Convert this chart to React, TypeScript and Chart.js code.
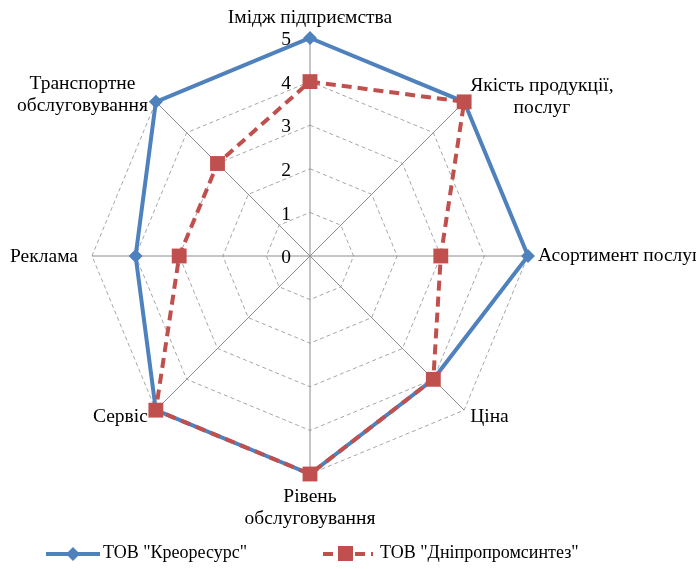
import React, { useEffect, useRef } from "react";
import { Chart, registerables } from "chart.js";

Chart.register(...registerables);

const categories: string[][] = [
  ["Імідж підприємства"],
  ["Якість продукції,", "послуг"],
  ["Асортимент послуг"],
  ["Ціна"],
  ["Рівень", "обслуговування"],
  ["Сервіс"],
  ["Реклама"],
  ["Транспортне", "обслуговування"],
];

const seriesNames = ['ТОВ "Креоресурс"', 'ТОВ "Дніпропромсинтез"'];
const kreoresursValues = [5, 5, 5, 4, 5, 5, 4, 5];
const dniproValues = [4, 5, 3, 4, 5, 5, 3, 3];
const tickValues = [0, 1, 2, 3, 4, 5];

const BLUE = "#4F81BD";
const RED = "#C0504D";
const FONT = '19.5px "Liberation Serif"';
const LEGEND_FONT = '18px "Liberation Serif"';

// label placement relative to each axis end: [align, dx, dy]
const labelPlacement: [string, number, number][] = [
  ["center", 0, -20],
  ["left", 6, -5],
  ["left", 10, 0],
  ["left", 6, 7],
  ["center", 0, 34],
  ["right", -8, 7],
  ["right", -14, 1],
  ["right", -8, -7],
];

const labelsPlugin = {
  id: "customLabels",
  beforeDatasetsDraw(chart: any) {
    const scale = chart.scales.r;
    const ctx = chart.ctx;
    ctx.save();
    ctx.font = FONT;
    ctx.fillStyle = "#000";
    ctx.textBaseline = "middle";
    ctx.textAlign = "right";
    tickValues.forEach((v) => {
      const p = scale.getPointPositionForValue(0, v);
      ctx.fillText(String(v), p.x - 19, p.y + 2);
    });
    ctx.restore();
  },
  afterDraw(chart: any) {
    const scale = chart.scales.r;
    const ctx = chart.ctx;
    ctx.save();
    ctx.font = FONT;
    ctx.fillStyle = "#000";
    ctx.textBaseline = "middle";
    ctx.textAlign = "center";
    const lh = 22;
    categories.forEach((lines, i) => {
      const p = scale.getPointPosition(i, scale.drawingArea);
      const [align, dx, dy] = labelPlacement[i];
      const w = Math.max(...lines.map((l) => ctx.measureText(l).width));
      let cx = p.x + dx;
      if (align === "left") cx = p.x + dx + w / 2;
      if (align === "right") cx = p.x + dx - w / 2;
      const cy = p.y + dy;
      const top = cy - ((lines.length - 1) * lh) / 2;
      lines.forEach((l, k) => ctx.fillText(l, cx, top + k * lh));
    });

    // legend
    const ly = 554;
    ctx.font = LEGEND_FONT;
    ctx.textAlign = "left";
    // blue
    ctx.strokeStyle = BLUE;
    ctx.lineWidth = 4;
    ctx.setLineDash([]);
    ctx.beginPath();
    ctx.moveTo(46, ly);
    ctx.lineTo(100, ly);
    ctx.stroke();
    ctx.fillStyle = BLUE;
    ctx.beginPath();
    ctx.moveTo(73, ly - 7);
    ctx.lineTo(80, ly);
    ctx.lineTo(73, ly + 7);
    ctx.lineTo(66, ly);
    ctx.closePath();
    ctx.fill();
    ctx.fillStyle = "#000";
    ctx.fillText(seriesNames[0], 103, ly - 1);
    // red
    ctx.strokeStyle = RED;
    ctx.setLineDash([10, 6]);
    ctx.beginPath();
    ctx.moveTo(323, ly);
    ctx.lineTo(373, ly);
    ctx.stroke();
    ctx.setLineDash([]);
    ctx.fillStyle = RED;
    ctx.fillRect(338, ly - 8, 15, 15);
    ctx.fillStyle = "#000";
    ctx.fillText(seriesNames[1], 380, ly - 1);
    ctx.restore();
  },
};

export default function App() {
  const ref = useRef<HTMLCanvasElement | null>(null);
  useEffect(() => {
    document.body.style.margin = "0";
    const canvas = ref.current;
    if (!canvas) return;
    const chart = new Chart(canvas, {
      type: "radar",
      data: {
        labels: categories.map((c) => c.join(" ")),
        datasets: [
          {
            label: seriesNames[0],
            data: kreoresursValues,
            borderColor: BLUE,
            backgroundColor: BLUE,
            borderWidth: 4,
            fill: false,
            pointStyle: "rectRot",
            pointRadius: 7,
            pointBorderWidth: 0,
            pointBackgroundColor: BLUE,
            order: 2,
          },
          {
            label: seriesNames[1],
            data: dniproValues,
            borderColor: RED,
            backgroundColor: RED,
            borderWidth: 4,
            borderDash: [10, 6],
            fill: false,
            pointStyle: "rect",
            pointRadius: 10.5,
            pointBorderWidth: 0,
            pointBackgroundColor: RED,
            order: 1,
          },
        ],
      },
      options: {
        animation: false,
        responsive: false,
        layout: { padding: { left: 92, right: 168, top: 38, bottom: 95 } },
        plugins: { legend: { display: false }, tooltip: { enabled: false } },
        elements: { line: { tension: 0 } },
        scales: {
          r: {
            min: 0,
            max: 5,
            beginAtZero: true,
            ticks: { display: false, stepSize: 1 },
            pointLabels: { display: false },
            grid: { color: "#a6a6a6", lineWidth: 1 },
            border: { dash: [4, 3] },
            angleLines: { color: "#8c8c8c", lineWidth: 1, borderDash: [] },
          },
        },
      } as any,
      plugins: [labelsPlugin],
    });
    return () => chart.destroy();
  }, []);
  return (
    <div style={{ position: "absolute", left: 0, top: 0, width: 696, height: 569, background: "#fff" }}>
      <canvas ref={ref} width={696} height={569} style={{ width: 696, height: 569 }} />
    </div>
  );
}
